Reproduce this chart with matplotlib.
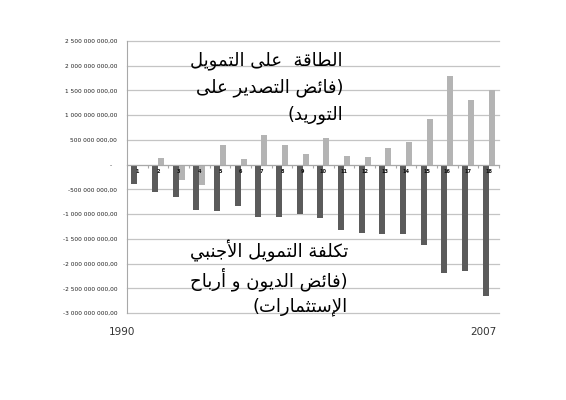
"""Bar chart: financing capacity vs. cost of foreign financing, 1990-2007."""

import matplotlib
matplotlib.use("Agg")
import matplotlib.pyplot as plt
from matplotlib.ticker import FixedLocator, FixedFormatter

# values in millions
periods = [str(i) for i in range(1, 19)]
financing_cost = [-392, -561, -662, -919, -939, -845, -1061, -1054, -993,
                  -1074, -1318, -1378, -1405, -1405, -1622, -2182, -2149, -2655]
financing_capacity = [0, 135, -311, -405, 392, 115, 595, 392, 225,
                      540, 176, 149, 338, 453, 926, 1797, 1311, 1500]
y_levels = [2500, 2000, 1500, 1000, 500, 0, -500, -1000, -1500, -2000, -2500, -3000]

upper_lines = ["الطاقة  على التمويل", "(فائض التصدير على", "التوريد)"]
lower_lines = ["تكلفة التمويل الأجنبي", "(فائض الديون و أرباح", "الإستثمارات)"]

# isolated, final, initial, medial
FORMS = {
    "آ": ("\uFE81", "\uFE82"), "أ": ("\uFE83", "\uFE84"), "ؤ": ("\uFE85", "\uFE86"),
    "إ": ("\uFE87", "\uFE88"), "ئ": ("\uFE89", "\uFE8A", "\uFE8B", "\uFE8C"),
    "ا": ("\uFE8D", "\uFE8E"), "ب": ("\uFE8F", "\uFE90", "\uFE91", "\uFE92"),
    "ة": ("\uFE93", "\uFE94"), "ت": ("\uFE95", "\uFE96", "\uFE97", "\uFE98"),
    "ث": ("\uFE99", "\uFE9A", "\uFE9B", "\uFE9C"), "ج": ("\uFE9D", "\uFE9E", "\uFE9F", "\uFEA0"),
    "ح": ("\uFEA1", "\uFEA2", "\uFEA3", "\uFEA4"), "خ": ("\uFEA5", "\uFEA6", "\uFEA7", "\uFEA8"),
    "د": ("\uFEA9", "\uFEAA"), "ذ": ("\uFEAB", "\uFEAC"), "ر": ("\uFEAD", "\uFEAE"),
    "ز": ("\uFEAF", "\uFEB0"), "س": ("\uFEB1", "\uFEB2", "\uFEB3", "\uFEB4"),
    "ش": ("\uFEB5", "\uFEB6", "\uFEB7", "\uFEB8"), "ص": ("\uFEB9", "\uFEBA", "\uFEBB", "\uFEBC"),
    "ض": ("\uFEBD", "\uFEBE", "\uFEBF", "\uFEC0"), "ط": ("\uFEC1", "\uFEC2", "\uFEC3", "\uFEC4"),
    "ظ": ("\uFEC5", "\uFEC6", "\uFEC7", "\uFEC8"), "ع": ("\uFEC9", "\uFECA", "\uFECB", "\uFECC"),
    "غ": ("\uFECD", "\uFECE", "\uFECF", "\uFED0"), "ف": ("\uFED1", "\uFED2", "\uFED3", "\uFED4"),
    "ق": ("\uFED5", "\uFED6", "\uFED7", "\uFED8"), "ك": ("\uFED9", "\uFEDA", "\uFEDB", "\uFEDC"),
    "ل": ("\uFEDD", "\uFEDE", "\uFEDF", "\uFEE0"), "م": ("\uFEE1", "\uFEE2", "\uFEE3", "\uFEE4"),
    "ن": ("\uFEE5", "\uFEE6", "\uFEE7", "\uFEE8"), "ه": ("\uFEE9", "\uFEEA", "\uFEEB", "\uFEEC"),
    "و": ("\uFEED", "\uFEEE"), "ى": ("\uFEEF", "\uFEF0"),
    "ي": ("\uFEF1", "\uFEF2", "\uFEF3", "\uFEF4"),
}
LAM_ALEF = {"آ": ("\uFEF5", "\uFEF6"), "أ": ("\uFEF7", "\uFEF8"),
            "إ": ("\uFEF9", "\uFEFA"), "ا": ("\uFEFB", "\uFEFC")}


def shape_arabic(text):
    """Joins Arabic letters and puts them in visual (right-to-left) order."""
    def dual(c):
        return c in FORMS and len(FORMS[c]) == 4

    res = []
    i = 0
    n = len(text)
    while i < n:
        c = text[i]
        prev = text[i - 1] if i > 0 else ""
        if c == "ل" and i + 1 < n and text[i + 1] in LAM_ALEF:
            iso, fin = LAM_ALEF[text[i + 1]]
            res.append(fin if dual(prev) else iso)
            i += 2
            continue
        if c not in FORMS:
            res.append(c)
            i += 1
            continue
        nxt = text[i + 1] if i + 1 < n else ""
        p = dual(prev)
        q = dual(c) and nxt in FORMS
        forms = FORMS[c]
        if p and q:
            res.append(forms[3])
        elif p:
            res.append(forms[1])
        elif q:
            res.append(forms[2])
        else:
            res.append(forms[0])
        i += 1
    visual = "".join(reversed(res))
    return visual.translate(str.maketrans("()", ")("))


def fmt_level(v):
    """Formats a level like '2 500 000 000,00'."""
    if v == 0:
        return "-   "
    s = f"{abs(v) * 1000000:,}".replace(",", " ") + ",00"
    return "-" + s if v < 0 else s


def plot_chart():
    fig = plt.figure(figsize=(5.66, 4.0), dpi=100)
    ax = fig.add_axes([0.2244, 0.2175, 0.6572, 0.68])

    x = list(range(len(periods)))
    w = 0.29
    ax.bar([i - w / 2 for i in x], [v * 1e6 for v in financing_cost], width=w,
           color="#5b5b5b", zorder=3)
    ax.bar([i + w / 2 for i in x], [v * 1e6 for v in financing_capacity], width=w,
           color="#b4b4b4", zorder=3)

    ax.set_xlim(-0.5, len(periods) - 0.5)
    ax.set_ylim(-3e9, 2.5e9)
    ax.yaxis.set_major_locator(FixedLocator([v * 1e6 for v in y_levels]))
    ax.yaxis.set_major_formatter(FixedFormatter([fmt_level(v) for v in y_levels]))
    ax.tick_params(axis="y", length=0, pad=7, labelsize=4.2, labelcolor="#222222")
    ax.grid(axis="y", color="#c4c4c4", linewidth=0.9, zorder=0)
    for line in ax.get_ygridlines():
        line.set_clip_on(False)

    for side in ("top", "right"):
        ax.spines[side].set_visible(False)
    ax.spines["left"].set_color("#a8a8a8")
    ax.spines["bottom"].set_position(("data", 0))
    ax.spines["bottom"].set_color("#a8a8a8")
    ax.spines["bottom"].set_zorder(4)

    ax.xaxis.set_major_locator(FixedLocator([i + 0.5 for i in x]))
    ax.xaxis.set_major_formatter(FixedFormatter([""] * len(x)))
    ax.xaxis.set_minor_locator(FixedLocator(x))
    ax.xaxis.set_minor_formatter(FixedFormatter(periods))
    ax.tick_params(axis="x", which="major", length=2.5, color="#a8a8a8")
    ax.tick_params(axis="x", which="minor", length=0, pad=3, labelsize=3.6,
                   labelcolor="#111111")
    ax.xaxis.set_zorder(5)
    for lbl in ax.get_xticklabels(minor=True):
        lbl.set_fontweight("bold")

    for k, line in enumerate(upper_lines):
        fig.text(343 / 566, 1 - (61 + 27 * k) / 400, shape_arabic(line),
                 ha="right", va="center", fontsize=13, family="DejaVu Sans")
    for k, line in enumerate(lower_lines):
        fig.text(348 / 566, 1 - (251 + 28 * k) / 400, shape_arabic(line),
                 ha="right", va="center", fontsize=13, family="DejaVu Sans")

    fig.text(122 / 566, 1 - 332 / 400, "1990", ha="center", va="center",
             fontsize=7.5, color="#333333")
    fig.text(483 / 566, 1 - 332 / 400, "2007", ha="center", va="center",
             fontsize=7.5, color="#333333")

    fig.savefig("out.png", dpi=100)


if __name__ == "__main__":
    plot_chart()
